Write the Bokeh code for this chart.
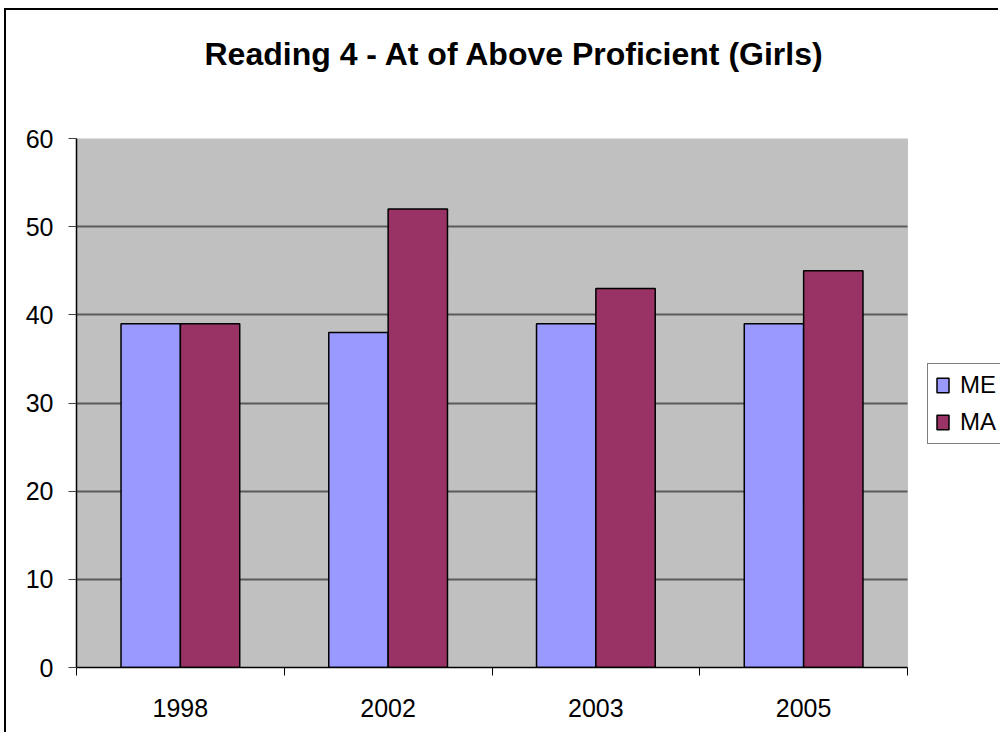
from bokeh.plotting import figure
from bokeh.models import (Range1d, FixedTicker, Legend, LegendItem, Title,
                          BoxAnnotation)
from bokeh.embed import file_html
from bokeh.resources import INLINE

# ---- data ----
categories = ["1998", "2002", "2003", "2005"]
me_values = [39, 38, 39, 39]
ma_values = [39, 52, 43, 45]
series_names = ["ME", "MA"]
y_ticks = [0, 10, 20, 30, 40, 50, 60]

FONT = "Liberation Sans"
BAR_W = 0.2857

# layout: the frame runs to the right edge so the legend can sit there;
# the grey plot area covers only the categories
CANVAS_W, CANVAS_H = 994, 724
LEFT = 70
PLOT_AREA_W = 831
n = len(categories)
x_end = n * (CANVAS_W - LEFT) / PLOT_AREA_W

p = figure(width=CANVAS_W, height=CANVAS_H, output_backend="svg",
           toolbar_location=None,
           x_range=Range1d(0, x_end), y_range=Range1d(0, 60),
           min_border_left=LEFT, min_border_right=0, min_border_top=128,
           min_border_bottom=67)
p.styles = {"border-left": "2px solid black", "border-top": "2px solid black",
            "margin-left": "4px", "margin-top": "8px"}

p.background_fill_color = "white"
p.border_fill_color = "white"
p.outline_line_color = None

plot_area = BoxAnnotation(left=0, right=n, fill_color="#C0C0C0", fill_alpha=1,
                          line_color="#808080", line_width=1, level="image")
p.add_layout(plot_area)

# spacer between title and plot area (closest to frame)
p.add_layout(Title(text=" ", text_font_size="10px", standoff=54), "above")

# title
p.title.text = "Reading 4 - At of Above Proficient (Girls)"
p.title.text_font = FONT
p.title.text_font_size = "32px"
p.title.text_font_style = "bold"
p.title.text_color = "black"
p.title.align = "left"
p.title.offset = 128
p.title.standoff = 0

centers = [i + 0.5 for i in range(n)]
me_x = [c - BAR_W / 2 for c in centers]
ma_x = [c + BAR_W / 2 for c in centers]

# grid lines limited to the plot area
p.xgrid.visible = False
grid = p.ygrid[0]
if "cross_bounds" in grid.properties():
    grid.ticker = FixedTicker(ticks=y_ticks)
    grid.cross_bounds = (0, n)
    grid.grid_line_color = "#5A5A5A"
    grid.grid_line_width = 2
else:
    grid.visible = False
    p.segment(x0=[0] * len(y_ticks), x1=[n] * len(y_ticks), y0=y_ticks,
              y1=y_ticks, line_color="#5A5A5A", line_width=2, level="underlay")

r_me = p.vbar(x=me_x, top=me_values, width=BAR_W, bottom=0,
              fill_color="#9999FF", line_color="black", line_width=1.5)
r_ma = p.vbar(x=ma_x, top=ma_values, width=BAR_W, bottom=0,
              fill_color="#993366", line_color="black", line_width=1.5)

# y axis
p.yaxis.ticker = FixedTicker(ticks=y_ticks)
p.yaxis.axis_line_color = "black"
p.yaxis.axis_line_width = 1.5
p.yaxis.major_tick_in = 0
p.yaxis.major_tick_out = 8
p.yaxis.major_tick_line_color = "#404040"
p.yaxis.minor_tick_line_color = None
p.yaxis.major_label_standoff = 15
p.yaxis.major_label_text_font = FONT
p.yaxis.major_label_text_font_size = "25px"
p.yaxis.major_label_text_color = "black"

# x axis: labels at centers, tick marks at category boundaries
p.xaxis.bounds = (0, n)
p.xaxis.ticker = FixedTicker(ticks=centers, minor_ticks=list(range(n + 1)))
p.xaxis.major_label_overrides = {c: cat for c, cat in zip(centers, categories)}
p.xaxis.axis_line_color = "black"
p.xaxis.axis_line_width = 1.5
p.xaxis.major_tick_in = 0
p.xaxis.major_tick_out = 0
p.xaxis.minor_tick_in = 0
p.xaxis.minor_tick_out = 8
p.xaxis.minor_tick_line_color = "black"
p.xaxis.minor_tick_line_width = 1
p.xaxis.major_label_standoff = 23
p.xaxis.major_label_text_font = FONT
p.xaxis.major_label_text_font_size = "25px"
p.xaxis.major_label_text_color = "black"

legend = Legend(items=[LegendItem(label=series_names[0], renderers=[r_me]),
                       LegendItem(label=series_names[1], renderers=[r_ma])],
                location=(851, 223), margin=0, padding=7, spacing=9,
                glyph_width=15, glyph_height=18, label_standoff=10,
                label_width=60, label_height=26,
                label_text_font=FONT, label_text_font_size="24px",
                label_text_color="black",
                border_line_color="black", border_line_width=1,
                background_fill_color="white", background_fill_alpha=1)
p.add_layout(legend)

open("out.html", "w").write(file_html(p, INLINE))
